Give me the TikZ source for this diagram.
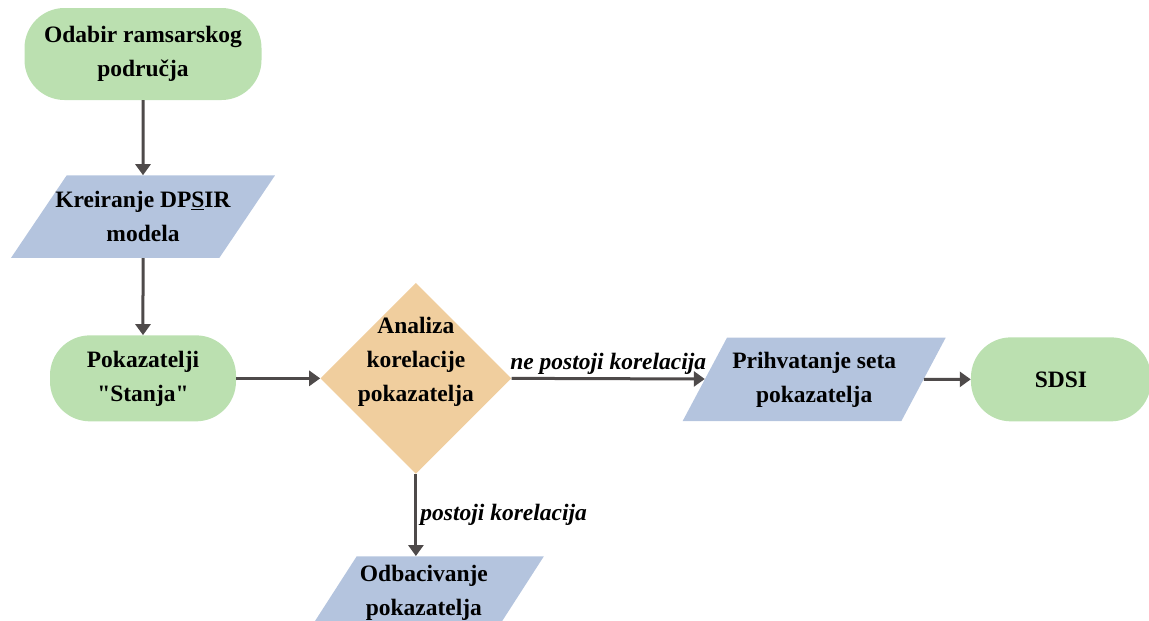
\documentclass[tikz,border=0pt]{standalone}
\usepackage{fontspec}
\setmainfont{Liberation Serif}
\usetikzlibrary{arrows.meta,positioning,shapes.geometric}
\definecolor{termgreen}{RGB}{187,224,176}
\definecolor{iobluegray}{RGB}{180,196,222}
\definecolor{decorange}{RGB}{240,206,158}
\definecolor{flowgray}{RGB}{78,74,74}
\newcommand{\flowfont}{\fontsize{23.5}{34}\selectfont\bfseries}
\tikzset{
  terminal/.style={rectangle,rounded corners=40pt,fill=termgreen,align=center,font=\flowfont,inner sep=2pt},
  iobox/.style={trapezium,trapezium stretches body,trapezium left angle=56,trapezium right angle=124,
    fill=iobluegray,align=center,font=\flowfont,inner xsep=1pt,inner ysep=14pt,minimum height=82pt},
  decision/.style={diamond,aspect=1,fill=decorange,align=center,font=\flowfont,inner sep=-14pt,minimum size=191pt},
  flow/.style={->,line width=3pt,draw=flowgray},
  flowlabel/.style={font=\fontsize{23.5}{34}\selectfont\bfseries\itshape,inner sep=3pt}
}

\begin{document}
\begin{tikzpicture}[x=1pt,y=-1pt,>={Triangle[length=11pt,width=15pt]}]
  \useasboundingbox (0,0) rectangle (1149,621);
  \node[terminal,minimum width=237pt,minimum height=92pt] (start) at (143,54) {Odabir ramsarskog\\područja};
  \node[iobox,minimum width=264pt,inner xsep=-14pt,inner ysep=16pt,below=75pt of start] (kreiranje) {Kreiranje DP\underline{S}IR\\modela};
  \node[terminal,minimum width=186pt,minimum height=86pt,below=77pt of kreiranje] (stanje) {Pokazatelji\\\textquotedbl Stanja\textquotedbl};
  \node[decision,right=84pt of stanje] (analiza) {Analiza\\korelacije\\pokazatelja\\[4pt]\mbox{}};
  \node[iobox,minimum width=263pt,trapezium left angle=62,trapezium right angle=118,
    right=193pt of analiza,yshift=-1pt] (prihvatanje) {Prihvatanje seta\\pokazatelja};
  \node[terminal,minimum width=180pt,minimum height=84pt,right=47pt of prihvatanje] (sdsi) {SDSI};
  \node[iobox,minimum width=240pt,inner ysep=7pt,below=82pt of analiza,xshift=8pt] (odbacivanje) {Odbacivanje\\pokazatelja\\[-20pt]\mbox{}};

  \draw[flow] (start) -- (kreiranje);
  \draw[flow] (kreiranje) -- (stanje);
  \draw[flow] (stanje) -- (analiza);
  \draw[flow] (analiza.east) -- (prihvatanje)
    node[flowlabel,above,midway] {ne postoji korelacija};
  \draw[flow] (prihvatanje) -- (sdsi);
  \draw[flow] (analiza.south) -- (analiza.south |- odbacivanje.north)
    node[flowlabel,right,midway] {postoji korelacija};
\end{tikzpicture}
\end{document}
